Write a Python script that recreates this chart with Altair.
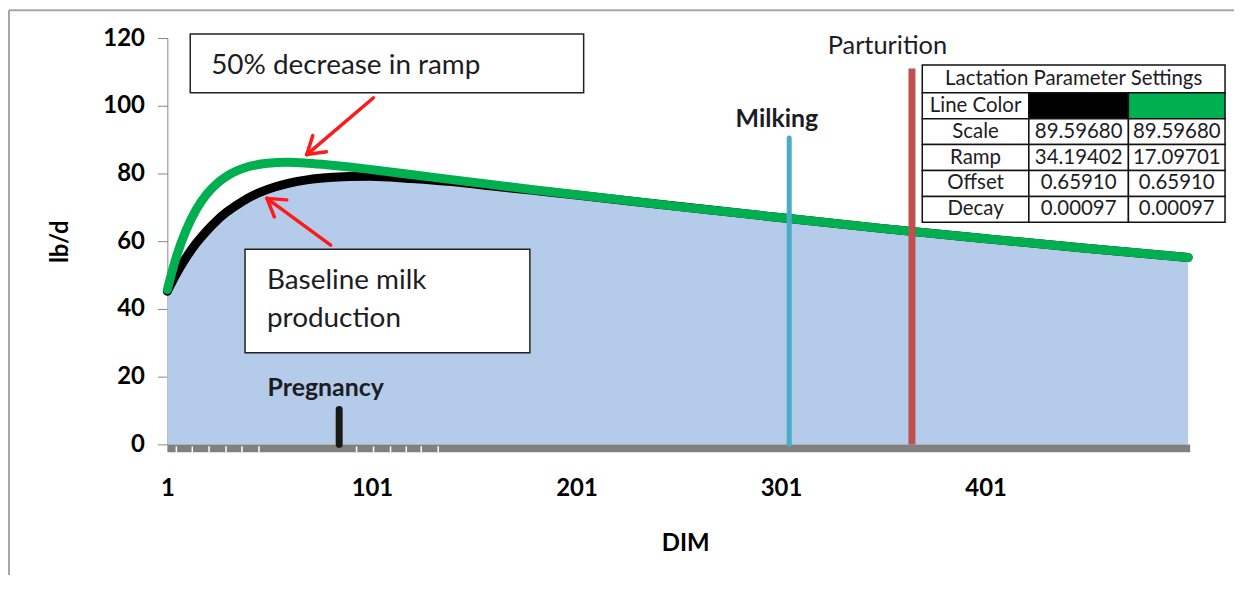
import math
import altair as alt
import pandas as pd

# ---------------- data ----------------
dim = [1, 5, 10, 15, 20, 25, 30, 35, 40, 50, 60, 70, 80, 90, 100, 120, 140,
       160, 180, 200, 250, 300, 350, 400, 450, 500]
baseline_milk = [45.2, 49.9, 55.0, 59.3, 62.9, 66.0, 68.6, 70.7, 72.6, 75.3, 77.1,
                 78.2, 78.8, 79.1, 79.2, 78.5, 77.6, 76.3, 75.0, 73.7, 70.3, 67.0,
                 63.8, 60.8, 57.9, 55.2]
reduced_ramp = [45.7, 54.6, 63.0, 69.2, 73.7, 76.9, 79.2, 80.8, 81.9, 83.0, 83.3,
                83.0, 82.5, 81.9, 81.2, 79.7, 78.2, 76.7, 75.2, 73.8, 70.3, 67.0,
                63.8, 60.8, 57.9, 55.2]

x_tick_labels = [1, 101, 201, 301, 401]
y_tick_values = [0, 20, 40, 60, 80, 100, 120]
minor_tick_dims = [5.4, 13.2, 21.4, 29.7, 37.5, 45.8, 93.5, 101.8, 110.1, 117.8, 125.1, 133.4]

event_names = ["Pregnancy", "Milking", "Parturition"]
event_dims = [85, 305, 365]
event_tops = [10.3, 90.5, 111.0]

table_title = "Lactation Parameter Settings"
param_names = ["Scale", "Ramp", "Offset", "Decay"]
baseline_params = ["89.59680", "34.19402", "0.65910", "0.00097"]
reduced_params = ["89.59680", "17.09701", "0.65910", "0.00097"]

# ---------------- layout ----------------
W, H = 1027, 408
PAD_L, PAD_T, PAD_R, PAD_B = 160, 29, 44, 130
PX0, PY0 = 8 + PAD_L, 8 + PAD_T
X_MIN, X_MAX = 1, 501
Y_MIN, Y_MAX = 0, 120
FONT = "Lato"
TXT = "#1c1c24"


def dx(px):
    return X_MIN + (px - PX0) * (X_MAX - X_MIN) / W


def dy(py):
    return Y_MAX - (py - PY0) * (Y_MAX - Y_MIN) / H


xs = alt.Scale(domain=[X_MIN, X_MAX], nice=False, zero=False)
ys = alt.Scale(domain=[Y_MIN, Y_MAX], nice=False, zero=False)

x_axis = alt.Axis(
    values=x_tick_labels, title="DIM", domain=False, ticks=False, grid=False,
    labelFont=FONT, labelFontSize=24, labelFontWeight="bold", labelColor="#000",
    labelPadding=32, labelFlush=False,
    titleFont=FONT, titleFontSize=24, titleFontWeight="bold", titleColor="#000",
    titleX=520, titleY=100, titleBaseline="middle")
y_axis = alt.Axis(
    values=y_tick_values, title="lb/d", grid=False,
    domainColor="#868686", tickColor="#868686", tickSize=10,
    labelFont=FONT, labelFontSize=24, labelFontWeight="bold", labelColor="#000",
    labelPadding=13,
    titleFont=FONT, titleFontSize=24, titleFontWeight="bold", titleColor="#000",
    titleAngle=270, titleX=-107, titleY=204, titleAlign="center",
    titleBaseline="middle")


def X(f):
    return alt.X(f, scale=xs, axis=x_axis)


def Y(f):
    return alt.Y(f, scale=ys, axis=y_axis)


curves = pd.DataFrame({"dim": dim, "baseline": baseline_milk, "reduced": reduced_ramp})

area = alt.Chart(curves).mark_area(color="#b5cbea", interpolate="monotone").encode(
    x=X("dim:Q"), y=Y("baseline:Q"))

band_df = pd.DataFrame({"dim": [X_MIN], "x2": [X_MAX], "baseline": [dy(449)]})
band = alt.Chart(band_df).mark_rule(color="#808080", strokeWidth=8).encode(
    x=X("dim:Q"), x2="x2:Q", y=Y("baseline:Q"))

minor_df = pd.DataFrame({"dim": minor_tick_dims,
                         "baseline": [dy(447)] * len(minor_tick_dims),
                         "y2": [dy(453)] * len(minor_tick_dims)})
minor = alt.Chart(minor_df).mark_rule(color="white", strokeWidth=1.5).encode(
    x=X("dim:Q"), y=Y("baseline:Q"), y2="y2:Q")

black_line = alt.Chart(curves).mark_line(color="#000000", strokeWidth=9, strokeCap="round",
                                         interpolate="monotone").encode(
    x=X("dim:Q"), y=Y("baseline:Q"))
green_line = alt.Chart(curves).mark_line(color="#00b050", strokeWidth=9, strokeCap="round",
                                         interpolate="monotone").encode(
    x=X("dim:Q"), y=Y("reduced:Q"))

ev = pd.DataFrame({"name": event_names, "dim": event_dims, "baseline": [0, 0, 0],
                   "y2": event_tops})
preg_line = alt.Chart(ev[ev.name == "Pregnancy"]).mark_rule(
    color="#1a1a14", strokeWidth=7, strokeCap="round").encode(
    x=X("dim:Q"), y=Y("baseline:Q"), y2="y2:Q")
milk_line = alt.Chart(ev[ev.name == "Milking"]).mark_rule(
    color="#4bacc6", strokeWidth=5, strokeCap="round").encode(
    x=X("dim:Q"), y=Y("baseline:Q"), y2="y2:Q")
part_line = alt.Chart(ev[ev.name == "Parturition"]).mark_rule(
    color="#c0504d", strokeWidth=7).encode(
    x=X("dim:Q"), y=Y("baseline:Q"), y2="y2:Q")

# event labels
lab_df = pd.DataFrame({
    "text": event_names,
    "dim": [dx(327), dx(780), dx(891)],
    "baseline": [dy(396), dy(126), dy(53)],
    "w": ["bold", "bold", "normal"],
})
ev_bold = alt.Chart(lab_df[lab_df.w == "bold"]).mark_text(
    font=FONT, fontSize=25, fontWeight="bold", color=TXT, align="center",
    baseline="alphabetic").encode(x=X("dim:Q"), y=Y("baseline:Q"), text="text:N")
ev_norm = alt.Chart(lab_df[lab_df.w == "normal"]).mark_text(
    font=FONT, fontSize=25.5, color=TXT, align="center", baseline="alphabetic").encode(
    x=X("dim:Q"), y=Y("baseline:Q"), text="text:N")

# annotation boxes
box_df = pd.DataFrame({"dim": [dx(191), dx(246)], "x2": [dx(586), dx(532)],
                       "baseline": [dy(33), dy(249)], "y2": [dy(92), dy(353)]})
boxes = alt.Chart(box_df).mark_rect(fill="white", stroke="#222", strokeWidth=1.5).encode(
    x=X("dim:Q"), x2="x2:Q", y=Y("baseline:Q"), y2="y2:Q")
box_txt_df = pd.DataFrame({"text": ["50% decrease in ramp", "Baseline milk", "production"],
                           "dim": [dx(212), dx(268), dx(268)],
                           "baseline": [dy(73), dy(289), dy(327)]})
box_txt = alt.Chart(box_txt_df).mark_text(
    font=FONT, fontSize=28, color=TXT, align="left", baseline="alphabetic").encode(
    x=X("dim:Q"), y=Y("baseline:Q"), text="text:N")

# arrows
arrows_px = [((375, 97), (308, 154)), ((332, 245), (268, 198))]
seg = []
for (tx, ty), (hx, hy) in arrows_px:
    seg.append((tx, ty, hx, hy))
    ux, uy = tx - hx, ty - hy
    L = math.hypot(ux, uy)
    ux, uy = ux / L, uy / L
    for a in (math.radians(32), -math.radians(32)):
        wx = ux * math.cos(a) - uy * math.sin(a)
        wy = ux * math.sin(a) + uy * math.cos(a)
        seg.append((hx, hy, hx + 20 * wx, hy + 20 * wy))
arr_df = pd.DataFrame({"dim": [dx(s[0]) for s in seg], "baseline": [dy(s[1]) for s in seg],
                       "x2": [dx(s[2]) for s in seg], "y2": [dy(s[3]) for s in seg]})
arrows = alt.Chart(arr_df).mark_rule(color="#ff1a1a", strokeWidth=3.5, strokeCap="round").encode(
    x=X("dim:Q"), x2="x2:Q", y=Y("baseline:Q"), y2="y2:Q")

# parameter table
col_px = [926, 1033, 1133, 1230]
row_px = [64, 92, 118, 144, 170, 196, 222]
cells = [{"dim": dx(col_px[0]), "x2": dx(col_px[3]), "baseline": dy(row_px[0]),
          "y2": dy(row_px[1]), "fill": "white"}]
fills = ["white", "#000000", "#00b050"]
for r in range(1, 6):
    for c in range(3):
        cells.append({"dim": dx(col_px[c]), "x2": dx(col_px[c + 1]),
                      "baseline": dy(row_px[r]), "y2": dy(row_px[r + 1]),
                      "fill": fills[c] if r == 1 else "white"})
cell_df = pd.DataFrame(cells)
table_cells = alt.Chart(cell_df).mark_rect(stroke="#111", strokeWidth=1.5).encode(
    x=X("dim:Q"), x2="x2:Q", y=Y("baseline:Q"), y2="y2:Q",
    fill=alt.Fill("fill:N", scale=None))

texts = [{"text": table_title, "dim": dx((col_px[0] + col_px[3]) / 2),
          "baseline": dy((row_px[0] + row_px[1]) / 2)},
         {"text": "Line Color", "dim": dx((col_px[0] + col_px[1]) / 2),
          "baseline": dy((row_px[1] + row_px[2]) / 2)}]
for i, name in enumerate(param_names):
    ry = dy((row_px[i + 2] + row_px[i + 3]) / 2)
    texts.append({"text": name, "dim": dx((col_px[0] + col_px[1]) / 2), "baseline": ry})
    texts.append({"text": baseline_params[i], "dim": dx((col_px[1] + col_px[2]) / 2),
                  "baseline": ry})
    texts.append({"text": reduced_params[i], "dim": dx((col_px[2] + col_px[3]) / 2),
                  "baseline": ry})
table_txt = alt.Chart(pd.DataFrame(texts)).mark_text(
    font=FONT, fontSize=20.5, color=TXT, align="center", baseline="middle").encode(
    x=X("dim:Q"), y=Y("baseline:Q"), text="text:N")

# outer frame (left and top edges)
frame_df = pd.DataFrame({"dim": [dx(9), dx(9)], "x2": [dx(9), dx(1240)],
                         "baseline": [dy(9), dy(9)], "y2": [dy(590), dy(9)]})
frame = alt.Chart(frame_df).mark_rule(color="#a6a6a6", strokeWidth=2).encode(
    x=X("dim:Q"), x2="x2:Q", y=Y("baseline:Q"), y2="y2:Q")

chart = alt.layer(
    area, band, minor, black_line, green_line, preg_line, milk_line, part_line,
    ev_bold, ev_norm, boxes, box_txt, arrows, table_cells, table_txt, frame
).properties(
    width=W, height=H, background="white",
    autosize=alt.AutoSizeParams(type="none"),
    padding={"left": PAD_L, "top": PAD_T, "right": PAD_R, "bottom": PAD_B},
).configure_view(stroke=None, strokeOpacity=0)

chart.save("out.html", embed_options={"renderer": "svg", "actions": False})
